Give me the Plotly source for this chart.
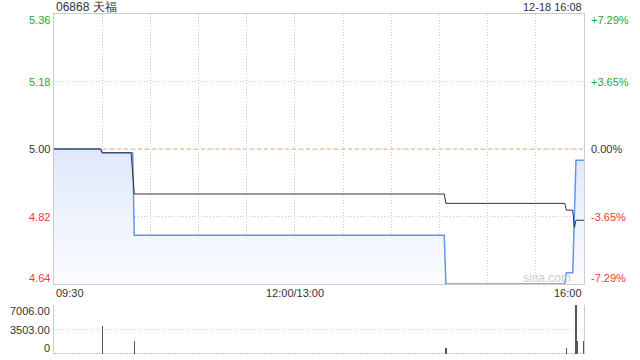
import plotly.graph_objects as go

# ---------------- data ----------------
title_text = "06868 天福"
time_text = "12-18 16:08"
prev_close = 5.00

# minutes since 09:30 (trading minutes, lunch break removed)
price_minutes = [0, 29, 30, 49, 50, 243, 244, 318, 319, 323, 325, 330]
price_values = [5.00, 5.00, 4.99, 4.99, 4.77, 4.77, 4.64, 4.64, 4.67, 4.67, 4.97, 4.97]

avg_minutes = [0, 29, 30, 48, 50, 243, 244, 318, 319, 323, 324, 325, 330]
avg_values = [5.00, 5.00, 4.99, 4.99, 4.88, 4.88, 4.855, 4.855, 4.837, 4.837, 4.79, 4.81, 4.81]

vol_minutes = [30, 50, 244, 319, 325, 326, 330]
vol_values = [4000, 1860, 860, 860, 7006, 1860, 1860]

price_ticks = [4.64, 4.82, 5.00, 5.18, 5.36]
price_labels = ["4.64", "4.82", "5.00", "5.18", "5.36"]
pct_labels = ["-7.29%", "-3.65%", "0.00%", "+3.65%", "+7.29%"]

vol_ticks = [0, 3503, 7006]
vol_labels = ["0", "3503.00", "7006.00"]

x_ticks = [0, 150, 330]
x_labels = ["09:30", "12:00/13:00", "16:00"]
grid_minutes = [0, 30, 60, 90, 120, 150, 180, 210, 240, 270, 300, 330]

# ---------------- style ----------------
FONT = "Liberation Sans, Arial, sans-serif"
GREEN = "#1fa81f"
RED = "#ee3b3b"
DARK = "#333333"
GRID = "#cccccc"
BORDER = "#cccccc"
DOT = "1px,2px"

fig = go.Figure()

fig.add_trace(go.Scatter(
    x=price_minutes, y=price_values, mode="lines",
    line=dict(color="#6196ee", width=1.5),
    fill="tozeroy",
    fillgradient=dict(type="vertical",
                      colorscale=[[0, "#fbfcff"], [1, "#dfe8fa"]],
                      start=4.64, stop=5.00),
    xaxis="x", yaxis="y", hoverinfo="skip", showlegend=False))

fig.add_trace(go.Scatter(
    x=avg_minutes, y=avg_values, mode="lines",
    line=dict(color="#333333", width=1),
    xaxis="x", yaxis="y", hoverinfo="skip", showlegend=False))

fig.add_trace(go.Bar(
    x=vol_minutes, y=vol_values, width=0.8,
    marker=dict(color="#555555", line=dict(width=0)),
    xaxis="x2", yaxis="y2", hoverinfo="skip", showlegend=False))

MAIN_BOTTOM = (354 - 284) / 340
VOL_TOP = (354 - 305) / 340

fig.update_layout(
    width=640, height=360,
    margin=dict(l=54, r=56, t=14, b=6),
    paper_bgcolor="white", plot_bgcolor="white",
    font=dict(family=FONT, size=11, color=DARK),
    bargap=0,
    xaxis=dict(domain=[0, 1], range=[0, 330], anchor="y",
               tickvals=grid_minutes, showticklabels=False, ticks="",
               showgrid=True, gridcolor=GRID, griddash=DOT, gridwidth=1,
               showline=True, mirror=True, linecolor=BORDER, linewidth=1,
               zeroline=False),
    yaxis=dict(domain=[MAIN_BOTTOM, 1], range=[4.64, 5.36], anchor="x",
               tickvals=price_ticks, showticklabels=False, ticks="",
               showgrid=True, gridcolor=GRID, griddash=DOT, gridwidth=1,
               showline=True, mirror=True, linecolor=BORDER, linewidth=1,
               zeroline=False),
    xaxis2=dict(domain=[0, 1], range=[0, 330], anchor="y2",
                showticklabels=False, ticks="", showgrid=False,
                showline=False, zeroline=False),
    yaxis2=dict(domain=[0, VOL_TOP], range=[0, 7006], anchor="x2",
                tickvals=vol_ticks, showticklabels=False, ticks="",
                showgrid=True, gridcolor=GRID, griddash=DOT, gridwidth=1,
                showline=True, mirror=True, linecolor=BORDER, linewidth=1,
                zeroline=False),
)

shapes = [
    dict(type="line", xref="x domain", x0=0, x1=1, yref="y",
         y0=prev_close, y1=prev_close, layer="below",
         line=dict(color="#f4a46a", width=1, dash="4px,3px")),
    dict(type="line", xref="x2 domain", x0=0, x1=1, yref="y2",
         y0=0, y1=0, layer="above",
         line=dict(color="#888888", width=1, dash="2px,1px")),
]
fig.update_layout(shapes=shapes)

ann = []
ann.append(dict(text=title_text, xref="paper", x=0, xanchor="left",
                yref="paper", y=1, yanchor="middle", yshift=7,
                showarrow=False, font=dict(size=12, color=DARK)))
ann.append(dict(text=time_text, xref="paper", x=1, xanchor="right",
                yref="paper", y=1, yanchor="middle", yshift=7,
                showarrow=False, font=dict(size=11, color=DARK)))

n = len(price_ticks)
for i, (v, lab, pl) in enumerate(zip(price_ticks, price_labels, pct_labels)):
    if v > prev_close:
        col = GREEN
    elif v < prev_close:
        col = RED
    else:
        col = DARK
    ys = -6 if i == n - 1 else (6 if i == 0 else 0)
    ann.append(dict(text=lab, xref="paper", x=0, xanchor="right", xshift=-2,
                    yref="y", y=v, yanchor="middle", yshift=ys,
                    showarrow=False, font=dict(size=11, color=col)))
    ann.append(dict(text=pl, xref="paper", x=1, xanchor="left", xshift=5,
                    yref="y", y=v, yanchor="middle", yshift=ys,
                    showarrow=False, font=dict(size=11, color=col)))

anchors = ["left", "center", "right"]
for xv, lab, anc in zip(x_ticks, x_labels, anchors):
    ann.append(dict(text=lab, xref="x", x=xv, xanchor=anc,
                    yref="y domain", y=0, yanchor="middle", yshift=-9,
                    showarrow=False, font=dict(size=11, color=DARK)))

nv = len(vol_ticks)
for i, (v, lab) in enumerate(zip(vol_ticks, vol_labels)):
    ys = -6 if i == nv - 1 else (6 if i == 0 else 0)
    ann.append(dict(text=lab, xref="paper", x=0, xanchor="right", xshift=-2,
                    yref="y2", y=v, yanchor="middle", yshift=ys,
                    showarrow=False, font=dict(size=11, color=DARK)))

ann.append(dict(text="sina.com", xref="paper", x=0.93, xanchor="center",
                yref="y", y=4.64, yanchor="middle", yshift=6,
                showarrow=False, font=dict(size=12, color="#cccccc")))

fig.update_layout(annotations=ann)

fig.write_html("out.html",
               config={"displayModeBar": False, "staticPlot": True},
               post_script="document.body.style.margin='0';document.body.style.overflow='hidden';")
